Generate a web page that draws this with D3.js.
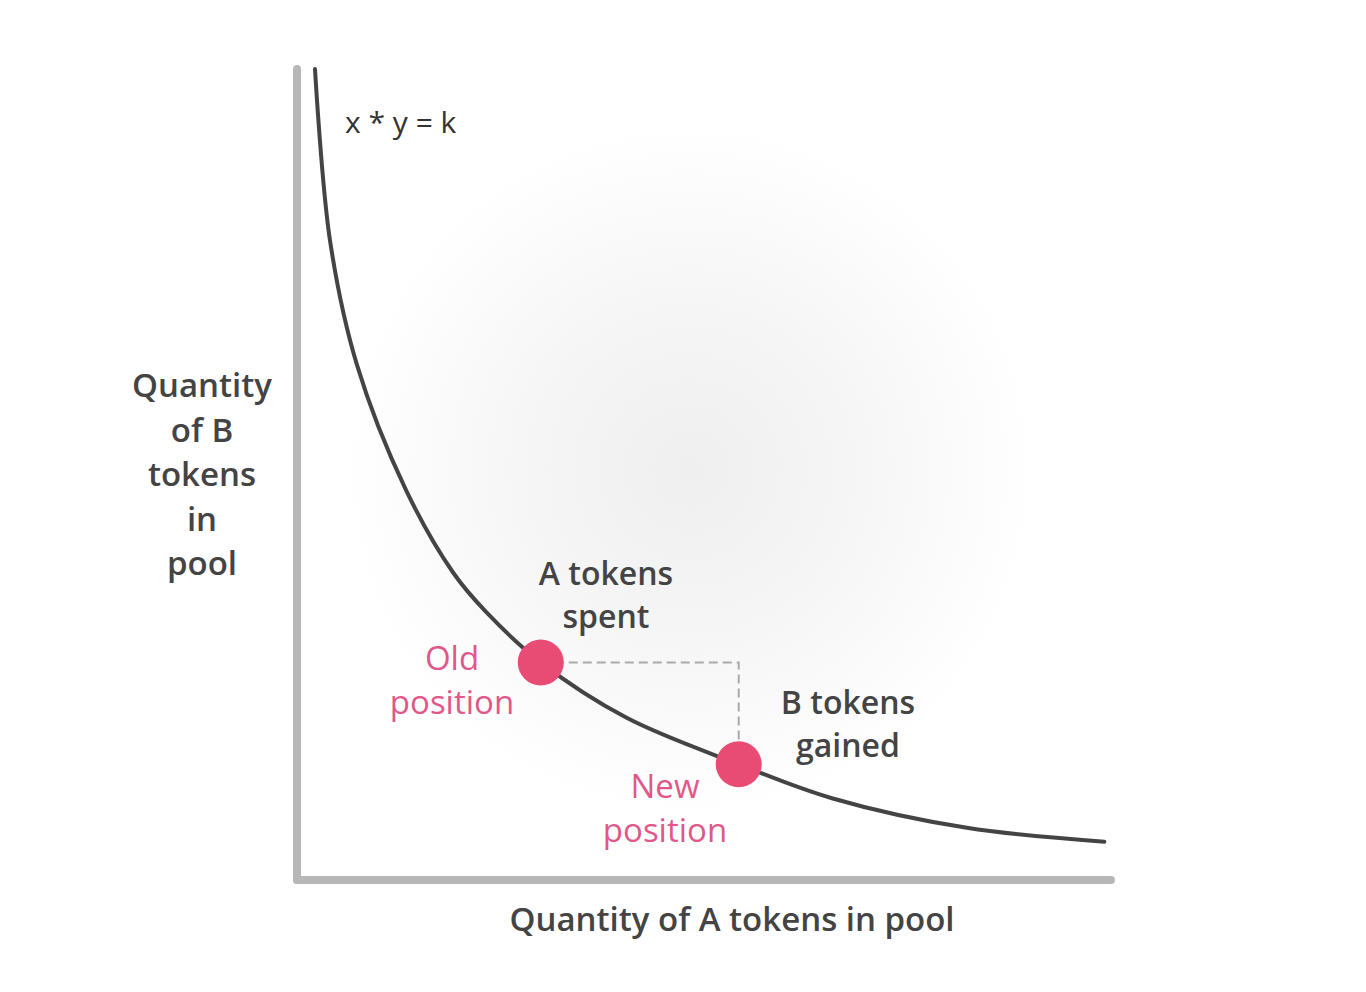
<!DOCTYPE html>
<html>
<head>
<meta charset="utf-8">
<script src="https://cdn.jsdelivr.net/npm/d3@7"></script>
<style>
  html, body { margin: 0; padding: 0; background: #ffffff; }
  svg { display: block; }
</style>
</head>
<body>
<svg id="chart" width="1366" height="992"></svg>
<script>
// ---- data ----
const curveX = [2.2, 4.03, 7.33, 13.3, 19.1, 23.2, 29.8, 40.3, 54.0, 65.5, 81.9, 98.7];
const curveY = [99.5, 78.5, 63.2, 47.9, 37.7, 32.8, 26.7, 19.9, 14.2, 10.0, 6.4, 4.7];
const positionNames = ["Old", "New"];
const positionX = [29.8, 54.0];
const positionY = [26.7, 14.2];
const xAxisTitle = "Quantity of A tokens in pool";
const yAxisTitleLines = ["Quantity", "of B", "tokens", "in", "pool"];
const formulaLabel = "x * y = k";
const spentLines = ["A tokens", "spent"];
const gainedLines = ["B tokens", "gained"];
const oldLines = ["Old", "position"];
const newLines = ["New", "position"];

// ---- scales ----
const x = d3.scaleLinear().domain([0, 100]).range([297, 1115]);
const y = d3.scaleLinear().domain([0, 100]).range([880, 65]);

const svg = d3.select("#chart");
const font = "'Open Sans', 'Noto Sans', sans-serif";
const dark = "#444444";
const pinkText = "#e0588a";
const pinkDot = "#e84c74";

// background radial glow
const defs = svg.append("defs");
const rg = defs.append("radialGradient").attr("id", "glow")
  .attr("gradientUnits", "userSpaceOnUse")
  .attr("cx", 690).attr("cy", 470).attr("r", 345);
rg.append("stop").attr("offset", "0%").attr("stop-color", "#efefef");
rg.append("stop").attr("offset", "45%").attr("stop-color", "#f5f5f5");
rg.append("stop").attr("offset", "100%").attr("stop-color", "#ffffff");
svg.append("rect").attr("x", 0).attr("y", 0).attr("width", 1366).attr("height", 992).attr("fill", "#ffffff");
svg.append("circle").attr("cx", 690).attr("cy", 470).attr("r", 345).attr("fill", "url(#glow)");

// axes (thick grey lines)
svg.append("line")
  .attr("x1", x(0)).attr("y1", y(0)).attr("x2", x(0)).attr("y2", y(99.5))
  .attr("stroke", "#b7b7b7").attr("stroke-width", 8).attr("stroke-linecap", "round");
svg.append("line")
  .attr("x1", x(0)).attr("y1", y(0)).attr("x2", x(99.5)).attr("y2", y(0))
  .attr("stroke", "#b7b7b7").attr("stroke-width", 8).attr("stroke-linecap", "round");

// curve
const pts = curveX.map((v, i) => [v, curveY[i]]);
const line = d3.line().x(d => x(d[0])).y(d => y(d[1])).curve(d3.curveCatmullRom.alpha(0.5));
svg.append("path").attr("d", line(pts))
  .attr("fill", "none").attr("stroke", "#444444").attr("stroke-width", 4).attr("stroke-linecap", "round");

// dashed connector
const ox = x(positionX[0]), oy = y(positionY[0]);
const nx = x(positionX[1]), ny = y(positionY[1]);
svg.append("path")
  .attr("d", `M${ox},${oy}H${nx}V${ny - 22}`)
  .attr("fill", "none").attr("stroke", "#aaaaaa").attr("stroke-width", 2)
  .attr("stroke-dasharray", "9,5");

// position dots
svg.selectAll("circle.pos").data(positionNames).enter().append("circle")
  .attr("class", "pos")
  .attr("cx", (d, i) => x(positionX[i]))
  .attr("cy", (d, i) => y(positionY[i]))
  .attr("r", 23).attr("fill", pinkDot);

function multiline(lines, cx, firstBaseline, lh, opts) {
  const t = svg.append("text")
    .attr("text-anchor", "middle")
    .attr("font-family", font)
    .attr("font-size", opts.size)
    .attr("font-weight", opts.weight)
    .attr("fill", opts.color);
  lines.forEach((s, i) => {
    t.append("tspan").attr("x", cx).attr("y", firstBaseline + i * lh).text(s);
  });
}

// formula
svg.append("text").attr("x", 345).attr("y", 133)
  .attr("font-family", font).attr("font-size", 30).attr("fill", "#333333")
  .text(formulaLabel);

// axis titles
multiline(yAxisTitleLines, 202, 397, 44.5, {size: 33, weight: 600, color: dark});
svg.append("text").attr("x", 732).attr("y", 931).attr("text-anchor", "middle")
  .attr("font-family", font).attr("font-size", 33).attr("font-weight", 600).attr("fill", dark)
  .text(xAxisTitle);

// annotations
multiline(spentLines, 606, 585, 43, {size: 32, weight: 600, color: dark});
multiline(gainedLines, 848, 714, 43, {size: 32, weight: 600, color: dark});
multiline(oldLines, 452, 670, 44, {size: 33, weight: 400, color: pinkText});
multiline(newLines, 665, 798, 44, {size: 33, weight: 400, color: pinkText});
</script>
</body>
</html>
